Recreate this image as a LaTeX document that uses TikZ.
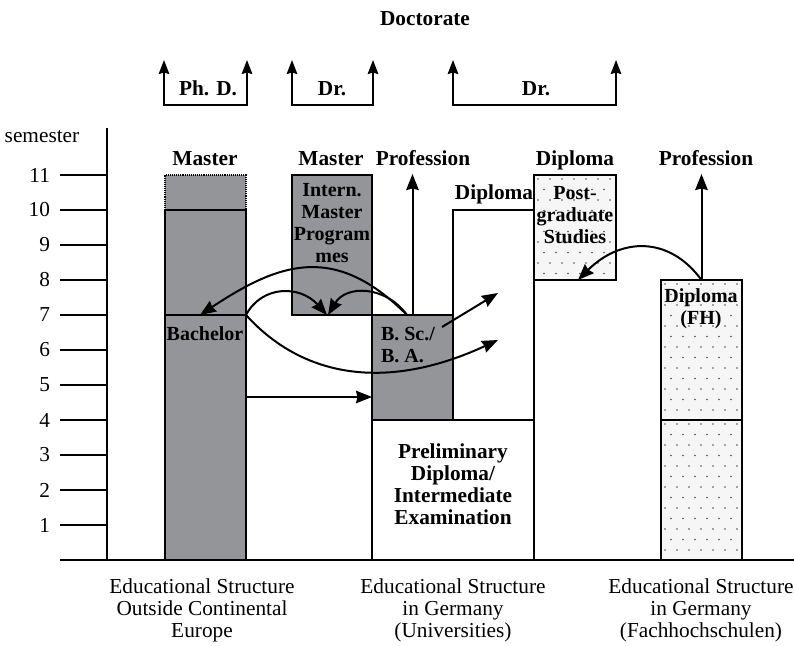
\documentclass[tikz,border=0pt]{standalone}
\usepackage{fontspec}
\setmainfont{Liberation Serif}
\usetikzlibrary{arrows.meta}
\definecolor{barGray}{RGB}{147,149,152}
\definecolor{dotBg}{RGB}{246,246,246}
\definecolor{dotInk}{RGB}{80,80,80}

\begin{document}
\begin{tikzpicture}[x=1pt,y=-1pt,
  every node/.style={inner sep=0pt, outer sep=0pt, align=center,
    font=\fontsize{21.3}{22}\selectfont},
  bold/.style={font=\fontsize{21.3}{22}\selectfont\bfseries},
  inbox/.style={font=\fontsize{20}{22}\selectfont\bfseries},
  boxline/.style={line width=1.1pt},
  cell/.style={draw, boxline, anchor=north west, minimum width=#1},
  gray cell/.style={fill=barGray},
  stipple/.style={fill=dotBg, path picture={
      \foreach \r in {0,...,27}{
        \foreach \c in {0,...,7}{
          \fill[dotInk] ([xshift={4+12*\c+6*mod(\r,2)}, yshift={-4-10.5*\r}]path picture bounding box.north west) circle (0.85pt);
        }
      }}},
  flow/.style={line width=2pt, -{Stealth[length=16pt,width=12.5pt,inset=1.5pt]}},
  bracket/.style={line width=2pt, {Stealth[length=14pt,width=10.5pt,inset=1.5pt]}-{Stealth[length=14pt,width=10.5pt,inset=1.5pt]}},
]

\useasboundingbox (0,0) rectangle (794,645);

% ---------- semester axis ----------
\coordinate (axtop) at (107,128);
\coordinate (axbot) at (107,560);
\coordinate (baseL) at (60,560);
\coordinate (baseR) at (794,560);
\draw[boxline] (axtop) -- (axbot);
\foreach \s in {1,...,11}{
  \coordinate (tk\s) at (60,{560-35*\s});
  \draw[boxline] (tk\s) -- (107,{560-35*\s});
  \node[anchor=east] (num\s) at (50,{560-35*\s}) {\s};
}
\node[anchor=base] (semester) at (42,142) {semester};

% ---------- structure outside continental Europe ----------
\node[cell=81pt, minimum height=35pt, fill=barGray, densely dotted] (lmaster) at (165,175) {};
\node[cell=81pt, minimum height=105pt, gray cell] (lupper) at (165,210) {};
\node[cell=81pt, minimum height=245pt, gray cell] (lbach) at (165,315) {};
\node[inbox, anchor=base] (tBachelor) at (205,340) {Bachelor};
\node[bold, anchor=base] (tMaster1) at (205,165) {Master};

% ---------- universities ----------
\node[cell=80pt, minimum height=140pt, gray cell] (im) at (292,175) {};
\node[inbox, anchor=north] (tIm) at (332,183) {Intern.\\Master\\Program\\mes};
\node[bold, anchor=base] (tMaster2) at (331,165) {Master};

\node[cell=81pt, minimum height=210pt, fill=white] (udipl) at (453,210) {};
\node[cell=81pt, minimum height=105pt, gray cell] (bsc) at (372,315) {};
\node[inbox, anchor=north west, align=left] (tBsc) at (381,327) {B. Sc./\\B. A.};
\node[cell=162pt, minimum height=140pt, fill=white] (prelim) at (372,420) {};
\node[bold, anchor=north] (tPrelim) at (453,444) {Preliminary\\Diploma/\\Intermediate\\Examination};
\node[bold, anchor=base] (tDiplU) at (494,199) {Diploma};
\node[bold, anchor=base] (tProf1) at (423,165) {Profession};

\node[cell=82pt, minimum height=105pt, stipple] (post) at (534,175) {};
\node[inbox, anchor=north] (tPost) at (575,186) {Post-\\graduate\\Studies};
\node[bold, anchor=base] (tDiplP) at (575,165) {Diploma};

% ---------- Fachhochschulen ----------
\node[cell=81pt, minimum height=140pt, stipple] (fhup) at (661,280) {};
\node[cell=81pt, minimum height=140pt, stipple] (fhlow) at (661,420) {};
\node[inbox, anchor=north] (tFh) at (701,289) {Diploma\\(FH)};
\node[bold, anchor=base] (tProf2) at (706,165) {Profession};

% base line drawn over the bars
\draw[boxline] (baseL) -- (baseR);

% ---------- doctorate brackets ----------
\node[bold, anchor=base] (tDoct) at (425,25) {Doctorate};
\coordinate (b1a) at (164,60);  \coordinate (b1b) at (164,105);
\coordinate (b1c) at (247,105); \coordinate (b1d) at (247,60);
\coordinate (b2a) at (292,60);  \coordinate (b2b) at (292,105);
\coordinate (b2c) at (373,105); \coordinate (b2d) at (373,60);
\coordinate (b3a) at (453,60);  \coordinate (b3b) at (453,105);
\coordinate (b3c) at (616,105); \coordinate (b3d) at (616,60);
\draw[bracket] (b1a) -- (b1b) -- (b1c) -- (b1d);
\draw[bracket] (b2a) -- (b2b) -- (b2c) -- (b2d);
\draw[bracket] (b3a) -- (b3b) -- (b3c) -- (b3d);
\node[bold, anchor=base] (tPhd) at (208,95) {Ph. D.};
\node[bold, anchor=base] (tDr1) at (332,95) {Dr.};
\node[bold, anchor=base] (tDr2) at (536,95) {Dr.};

% ---------- transitions ----------
\coordinate (prof1) at (412.5,174);
\coordinate (prof2) at (701.5,174);
\coordinate (diplA) at (498,293);
\coordinate (diplB) at (498,340);
\coordinate (bscOut) at (442,327);

\draw[flow] (bsc.north) -- (prof1);
\draw[flow] (fhup.north) -- (prof2);

\draw[flow] ([xshift=-5.5pt]bsc.north) .. controls +(-72,-72) and +(80,-53) .. ([xshift=-5.5pt]lbach.north);
\draw[flow] (lbach.north east) .. controls +(16,-30) and +(-27,-30) .. ([xshift=-5pt]im.south);
\draw[flow] ([xshift=-5.5pt]bsc.north) .. controls +(-22,-30) and +(18,-30) .. ([xshift=-4pt]im.south);
\draw[flow] (bscOut) -- (diplA);
\draw[flow] (lbach.north east) .. controls +(59,65) and +(-108,50) .. (diplB);
\draw[flow] ([yshift=-82pt]lbach.north east) -- ([yshift=-82pt]bsc.north west);
\draw[flow] (fhup.north) .. controls +(-33,-45) and +(42,-42) .. ([xshift=3pt]post.south);

% ---------- column captions ----------
\node[anchor=north] (capL) at (202,579) {Educational Structure\\Outside Continental\\Europe};
\node[anchor=north] (capM) at (453,579) {Educational Structure\\in Germany\\(Universities)};
\node[anchor=north] (capR) at (701,579) {Educational Structure\\in Germany\\(Fachhochschulen)};
\end{tikzpicture}
\end{document}
